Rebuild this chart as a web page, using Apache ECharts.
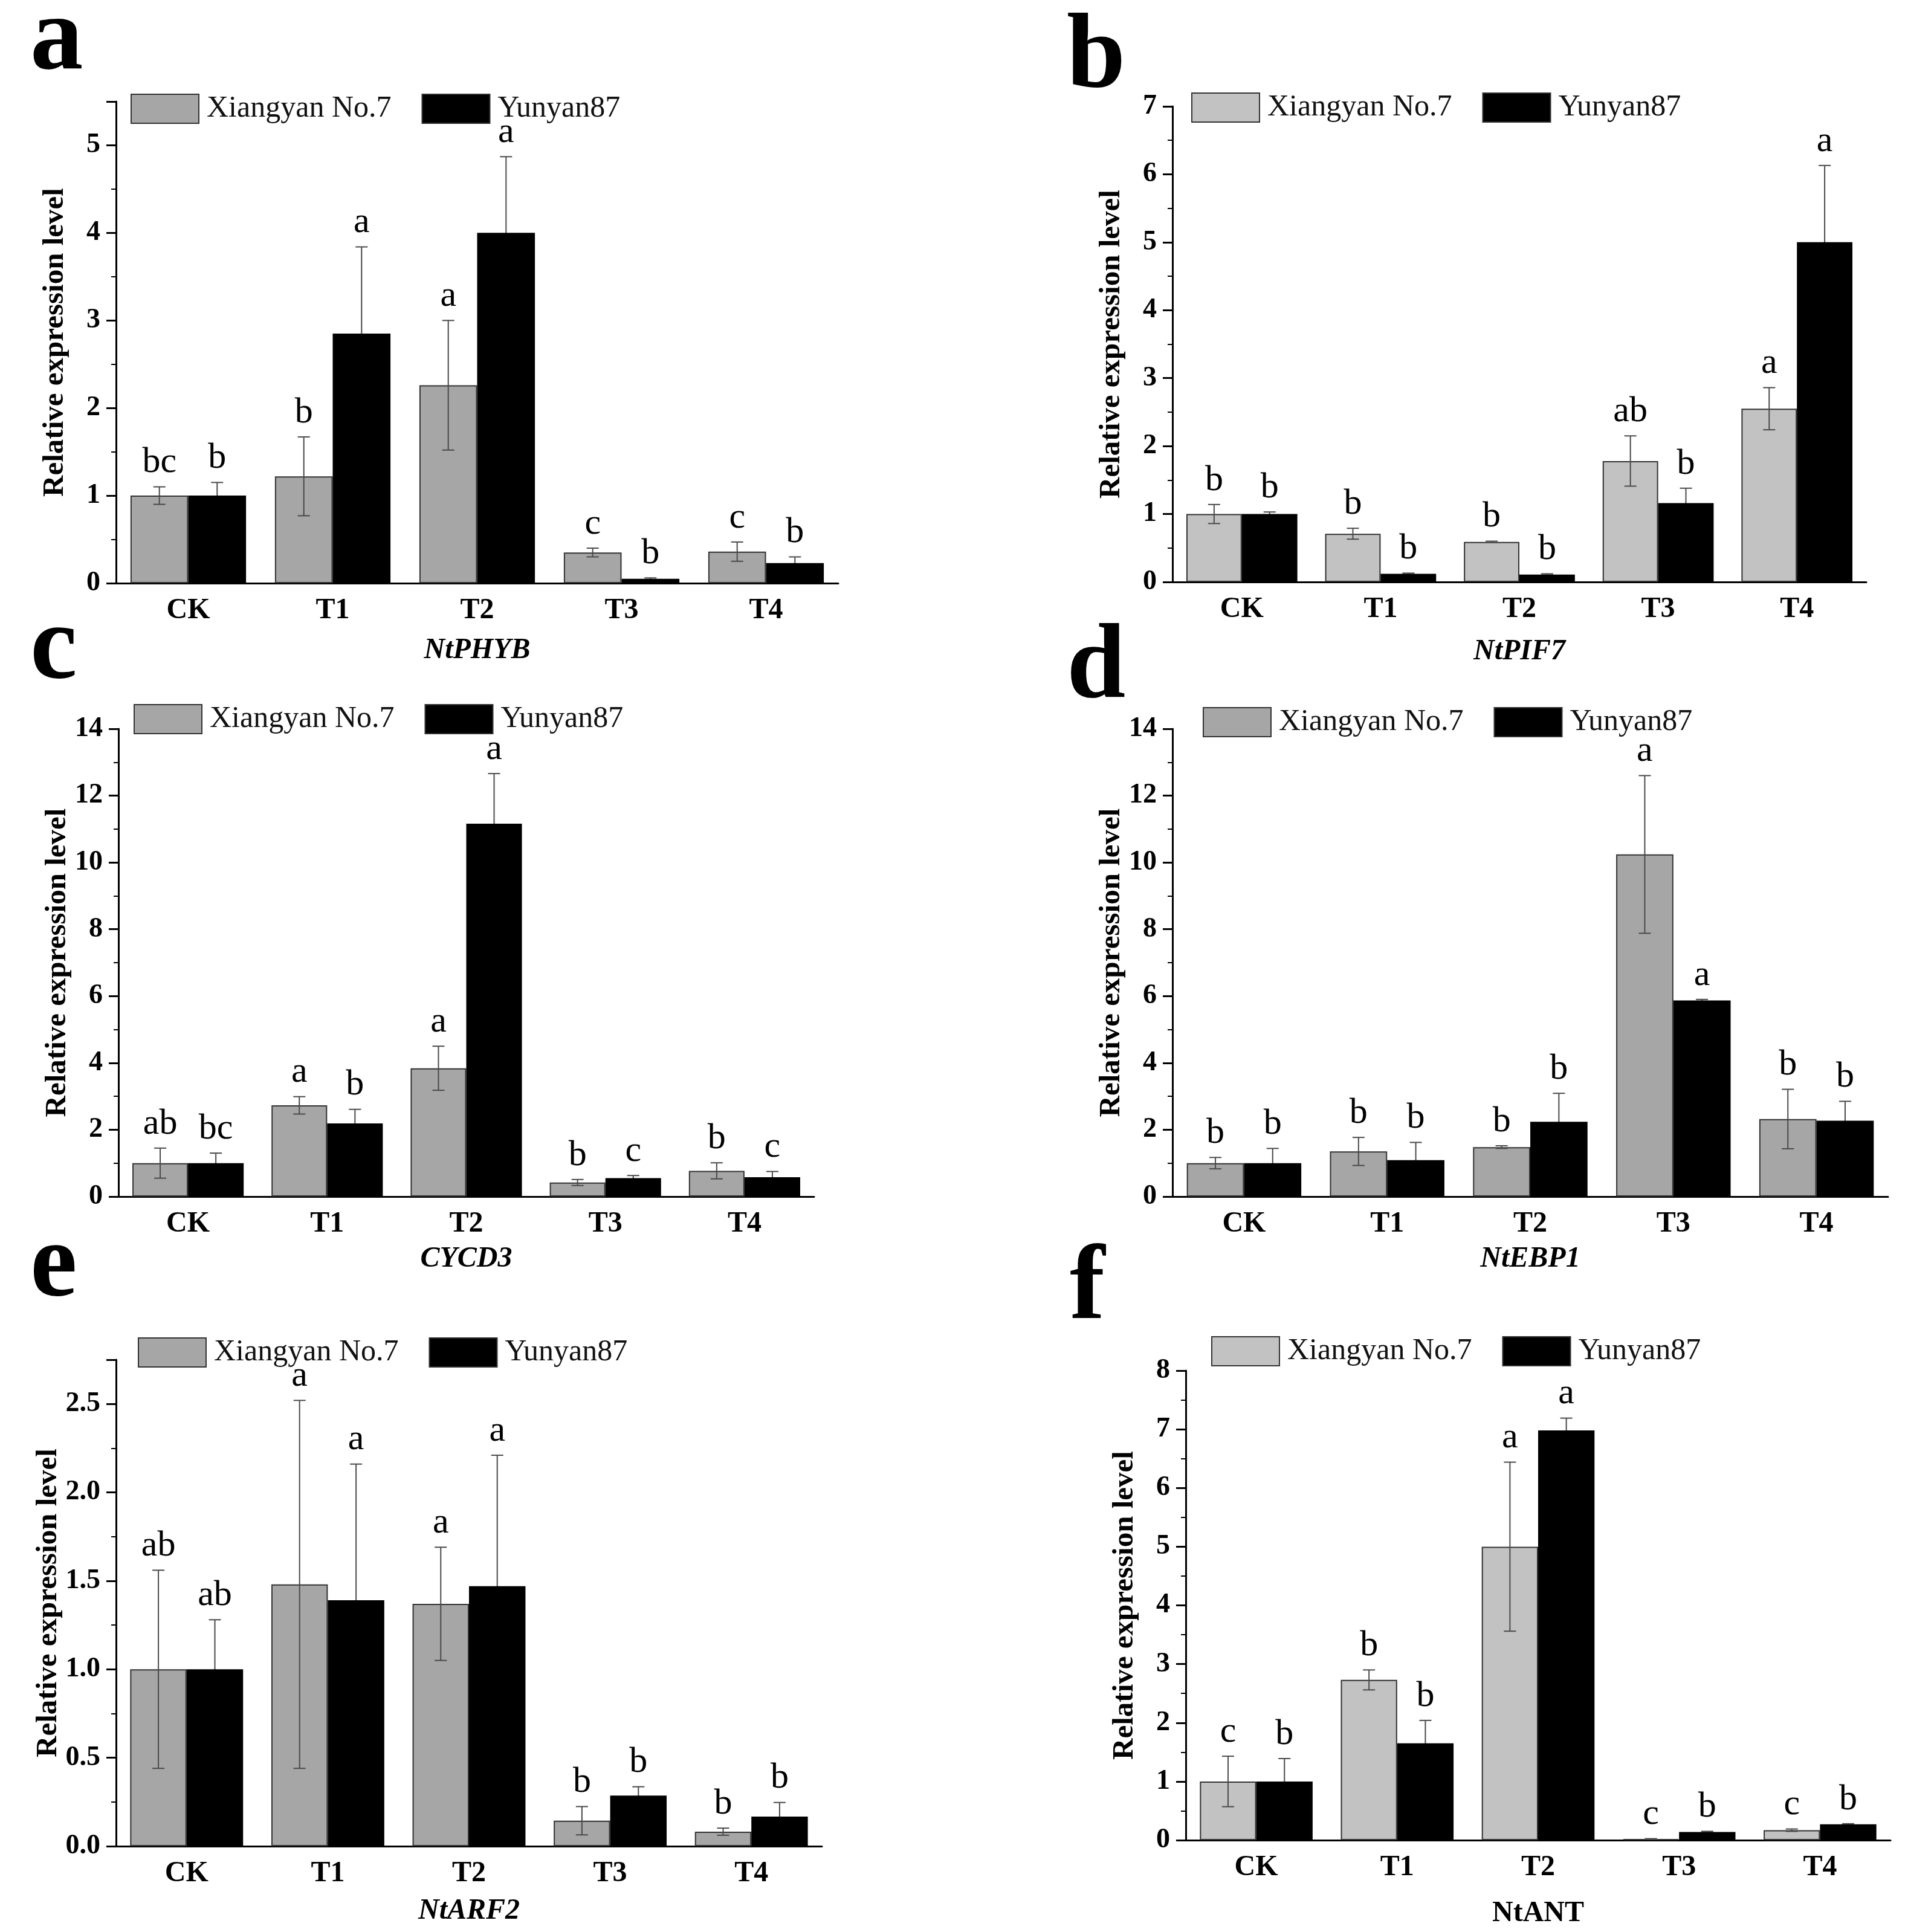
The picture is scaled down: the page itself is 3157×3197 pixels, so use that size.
<!DOCTYPE html>
<html>
<head>
<meta charset="utf-8">
<script src="https://cdn.jsdelivr.net/npm/echarts@6/dist/echarts.min.js"></script>
<style>
  html, body { margin: 0; padding: 0; background: #fff; }
  #main { width: 3157px; height: 3197px; }
</style>
</head>
<body>
<div id="main"></div>
<script>
var chartDom = document.getElementById('main');
var myChart = echarts.init(chartDom);
var option;

var SERIF = '"Liberation Serif", "Times New Roman", serif';

// treatments
var categories = ['CK', 'T1', 'T2', 'T3', 'T4'];
var cultivars = ['Xiangyan No.7', 'Yunyan87'];

// a - NtPHYB
var phybXiang = [1.00, 1.22, 2.26, 0.35, 0.36];
var phybXiangErr = [0.10, 0.45, 0.74, 0.05, 0.11];
var phybXiangSig = ['bc', 'b', 'a', 'c', 'c'];
var phybYun = [1.00, 2.85, 4.00, 0.05, 0.23];
var phybYunErr = [0.15, 0.99, 0.87, 0.01, 0.07];
var phybYunSig = ['b', 'a', 'a', 'b', 'b'];

// b - NtPIF7
var pif7Xiang = [1.00, 0.71, 0.59, 1.78, 2.55];
var pif7XiangErr = [0.14, 0.08, 0.01, 0.37, 0.31];
var pif7XiangSig = ['b', 'b', 'b', 'ab', 'a'];
var pif7Yun = [1.00, 0.12, 0.11, 1.16, 5.00];
var pif7YunErr = [0.03, 0.01, 0.01, 0.22, 1.13];
var pif7YunSig = ['b', 'b', 'b', 'b', 'a'];

// c - CYCD3
var cycd3Xiang = [1.00, 2.73, 3.84, 0.42, 0.77];
var cycd3XiangErr = [0.45, 0.26, 0.66, 0.09, 0.24];
var cycd3XiangSig = ['ab', 'a', 'a', 'b', 'b'];
var cycd3Yun = [1.00, 2.19, 11.16, 0.55, 0.58];
var cycd3YunErr = [0.30, 0.42, 1.50, 0.08, 0.17];
var cycd3YunSig = ['bc', 'b', 'a', 'c', 'c'];

// d - NtEBP1
var ebp1Xiang = [1.00, 1.35, 1.48, 10.24, 2.32];
var ebp1XiangErr = [0.17, 0.42, 0.04, 2.36, 0.89];
var ebp1XiangSig = ['b', 'b', 'b', 'a', 'b'];
var ebp1Yun = [1.00, 1.09, 2.24, 5.87, 2.27];
var ebp1YunErr = [0.44, 0.53, 0.85, 0.03, 0.58];
var ebp1YunSig = ['b', 'b', 'b', 'a', 'b'];

// e - NtARF2
var arf2Xiang = [1.00, 1.48, 1.37, 0.144, 0.082];
var arf2XiangErr = [0.56, 1.04, 0.32, 0.08, 0.02];
var arf2XiangSig = ['ab', 'a', 'a', 'b', 'b'];
var arf2Yun = [1.00, 1.39, 1.47, 0.286, 0.167];
var arf2YunErr = [0.28, 0.77, 0.74, 0.05, 0.08];
var arf2YunSig = ['ab', 'a', 'a', 'b', 'b'];

// f - NtANT
var antXiang = [1.00, 2.73, 5.00, 0.02, 0.17];
var antXiangErr = [0.43, 0.17, 1.44, 0.005, 0.02];
var antXiangSig = ['c', 'b', 'a', 'c', 'c'];
var antYun = [1.00, 1.65, 6.98, 0.14, 0.27];
var antYunErr = [0.39, 0.39, 0.21, 0.01, 0.01];
var antYunSig = ['b', 'b', 'a', 'b', 'b'];

// y axis ranges per panel
var yMax = [5.5, 7, 14, 14, 2.75, 8];
var yInterval = [1, 1, 2, 2, 0.5, 1];

var panels = [
  { tag: 'a', gene: 'NtPHYB', italic: true, x: phybXiang, xe: phybXiangErr, xs: phybXiangSig, y: phybYun, ye: phybYunErr, ys: phybYunSig,
    color: '#a6a6a6', grid: [192, 1387, 168, 965], legend: [211, 150], letter: [50, 110], nameGap: 88 },
  { tag: 'b', gene: 'NtPIF7', italic: true, x: pif7Xiang, xe: pif7XiangErr, xs: pif7XiangSig, y: pif7Yun, ye: pif7YunErr, ys: pif7YunSig,
    color: '#c2c2c2', grid: [1940, 3088, 176, 963], legend: [1966, 148], letter: [1765, 140], nameGap: 92 },
  { tag: 'c', gene: 'CYCD3', italic: true, x: cycd3Xiang, xe: cycd3XiangErr, xs: cycd3XiangSig, y: cycd3Yun, ye: cycd3YunErr, ys: cycd3YunSig,
    color: '#a6a6a6', grid: [196, 1347, 1206, 1980], legend: [216, 1160], letter: [50, 1118], nameGap: 80 },
  { tag: 'd', gene: 'NtEBP1', italic: true, x: ebp1Xiang, xe: ebp1XiangErr, xs: ebp1XiangSig, y: ebp1Yun, ye: ebp1YunErr, ys: ebp1YunSig,
    color: '#a6a6a6', grid: [1940, 3124, 1206, 1980], legend: [1985, 1165], letter: [1765, 1150], nameGap: 80 },
  { tag: 'e', gene: 'NtARF2', italic: true, x: arf2Xiang, xe: arf2XiangErr, xs: arf2XiangSig, y: arf2Yun, ye: arf2YunErr, ys: arf2YunSig,
    color: '#a6a6a6', grid: [192, 1360, 2250, 3055], legend: [223, 2208], letter: [50, 2140], nameGap: 84 },
  { tag: 'f', gene: 'NtANT', italic: false, x: antXiang, xe: antXiangErr, xs: antXiangSig, y: antYun, ye: antYunErr, ys: antYunSig,
    color: '#c2c2c2', grid: [1962, 3128, 2268, 3045], legend: [1999, 2206], letter: [1770, 2178], nameGap: 98 }
];

function errorBars(sig, offset) {
  return function (params, api) {
    var cat = api.value(0);
    var mean = api.value(1);
    var err = api.value(2);
    var band = api.size([1, 0])[0];
    var cx = api.coord([cat, 0])[0] + offset * band;
    var yTop = api.coord([cat, mean + err])[1];
    var yBot = api.coord([cat, mean - err])[1];
    var cap = 10;
    var ls = { stroke: '#4a4a4a', lineWidth: 2 };
    return {
      type: 'group',
      children: [
        { type: 'line', shape: { x1: cx, y1: yTop, x2: cx, y2: yBot }, style: ls },
        { type: 'line', shape: { x1: cx - cap, y1: yTop, x2: cx + cap, y2: yTop }, style: ls },
        { type: 'line', shape: { x1: cx - cap, y1: yBot, x2: cx + cap, y2: yBot }, style: ls },
        { type: 'text', x: cx, y: yTop - 10,
          style: { text: sig[params.dataIndex], fill: '#000', font: '60px ' + SERIF,
                   align: 'center', verticalAlign: 'bottom' } }
      ]
    };
  };
}

var grids = [], xAxes = [], yAxes = [], series = [], legends = [], graphics = [];

panels.forEach(function (p, i) {
  var g = p.grid;
  grids.push({ left: g[0], width: g[1] - g[0], top: g[2], height: g[3] - g[2], containLabel: false });

  xAxes.push({
    type: 'category', gridIndex: i, data: categories, position: 'bottom',
    axisLine: { lineStyle: { color: '#000', width: 3 } },
    axisTick: { alignWithLabel: true, length: 20, lineStyle: { width: 3, color: '#000' } },
    axisLabel: { color: '#000', fontFamily: SERIF, fontWeight: 'bold', fontSize: 48, margin: 22 },
    name: p.gene, nameLocation: 'middle', nameGap: p.nameGap,
    nameTextStyle: { color: '#000', fontFamily: SERIF, fontWeight: 'bold',
                     fontStyle: p.italic ? 'italic' : 'normal', fontSize: 48 }
  });
  // short boundary ticks between treatments
  xAxes.push({
    type: 'category', gridIndex: i, data: categories, position: 'bottom',
    axisLine: { show: false },
    axisTick: { alignWithLabel: false, length: 10, lineStyle: { width: 3, color: '#000' } },
    axisLabel: { show: false }
  });

  yAxes.push({
    type: 'value', gridIndex: i, min: 0, max: yMax[i], interval: yInterval[i],
    axisLine: { show: true, lineStyle: { color: '#000', width: 3 } },
    axisTick: { show: true, length: 16, lineStyle: { width: 3, color: '#000' } },
    minorTick: { show: true, splitNumber: 2, length: 8, lineStyle: { width: 2, color: '#000' } },
    splitLine: { show: false },
    axisLabel: {
      color: '#000', fontFamily: SERIF, fontWeight: 'bold', fontSize: 46, margin: 26,
      showMaxLabel: yMax[i] % yInterval[i] === 0,
      formatter: function (v) { return yInterval[i] < 1 ? v.toFixed(1) : String(v); }
    },
    name: 'Relative expression level', nameLocation: 'middle', nameGap: 76,
    nameTextStyle: { color: '#000', fontFamily: SERIF, fontWeight: 'bold', fontSize: 49 }
  });

  var xi = i * 2;
  series.push({
    name: cultivars[0], type: 'bar', xAxisIndex: xi, yAxisIndex: i,
    data: p.x, barGap: '0%', barCategoryGap: '20%',
    itemStyle: { color: p.color, borderColor: '#333', borderWidth: 2 }, z: 2
  });
  series.push({
    name: cultivars[1], type: 'bar', xAxisIndex: xi, yAxisIndex: i,
    data: p.y, barGap: '0%', barCategoryGap: '20%',
    itemStyle: { color: '#000', borderColor: '#000', borderWidth: 2 }, z: 2
  });
  series.push({
    name: 'err-x', type: 'custom', xAxisIndex: xi, yAxisIndex: i, z: 3,
    renderItem: errorBars(p.xs, -0.2),
    data: p.x.map(function (v, k) { return [k, v, p.xe[k]]; })
  });
  series.push({
    name: 'err-y', type: 'custom', xAxisIndex: xi, yAxisIndex: i, z: 1,
    renderItem: errorBars(p.ys, 0.2),
    data: p.y.map(function (v, k) { return [k, v, p.ye[k]]; })
  });

  legends.push({
    left: p.legend[0], top: p.legend[1], orient: 'horizontal',
    selectedMode: false, icon: 'rect', itemWidth: 112, itemHeight: 48, itemGap: 50,
    textStyle: { fontFamily: SERIF, fontSize: 50, color: '#111', padding: [0, 0, 0, 8] },
    data: [
      { name: cultivars[0], itemStyle: { color: p.color, borderColor: '#333', borderWidth: 2 } },
      { name: cultivars[1], itemStyle: { color: '#000', borderColor: '#333', borderWidth: 2 } }
    ]
  });

  graphics.push({
    type: 'text', left: p.letter[0], top: p.letter[1] - 130,
    style: { text: p.tag, fill: '#000', font: 'bold 175px ' + SERIF }
  });
});

option = {
  backgroundColor: '#fff',
  animation: false,
  grid: grids,
  xAxis: xAxes,
  yAxis: yAxes,
  legend: legends,
  graphic: graphics,
  series: series
};

option && myChart.setOption(option);
</script>
</body>
</html>
